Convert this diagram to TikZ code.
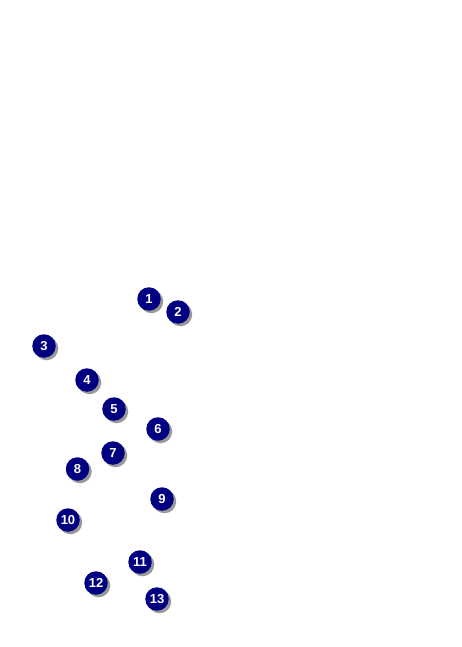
\documentclass[tikz,border=0pt]{standalone}
\usepackage{fontspec}
\setmainfont{Liberation Sans}
\definecolor{navyblue}{RGB}{0,0,128}
\begin{document}
\begin{tikzpicture}[x=1pt,y=-1pt,
  badge/.style={circle,fill=navyblue,text=white,minimum size=23.5pt,inner sep=0pt,
    font=\fontsize{13}{13}\selectfont\bfseries,
    preaction={fill=black!40,transform canvas={shift={(2.5pt,-2.5pt)}}}}]
\useasboundingbox (0,0) rectangle (461,647);
\node[badge] (n1) at (149,299) {1};
\node[badge] (n2) at (178,312) {2};
\node[badge] (n3) at (44,346) {3};
\node[badge] (n4) at (87,380) {4};
\node[badge] (n5) at (114,409) {5};
\node[badge] (n6) at (158,429) {6};
\node[badge] (n7) at (113,453) {7};
\node[badge] (n8) at (77.5,469) {8};
\node[badge] (n9) at (162,499) {9};
\node[badge] (n10) at (68,520) {10};
\node[badge] (n11) at (140,562) {11};
\node[badge] (n12) at (96,583) {12};
\node[badge] (n13) at (157,599) {13};
\end{tikzpicture}
\end{document}
